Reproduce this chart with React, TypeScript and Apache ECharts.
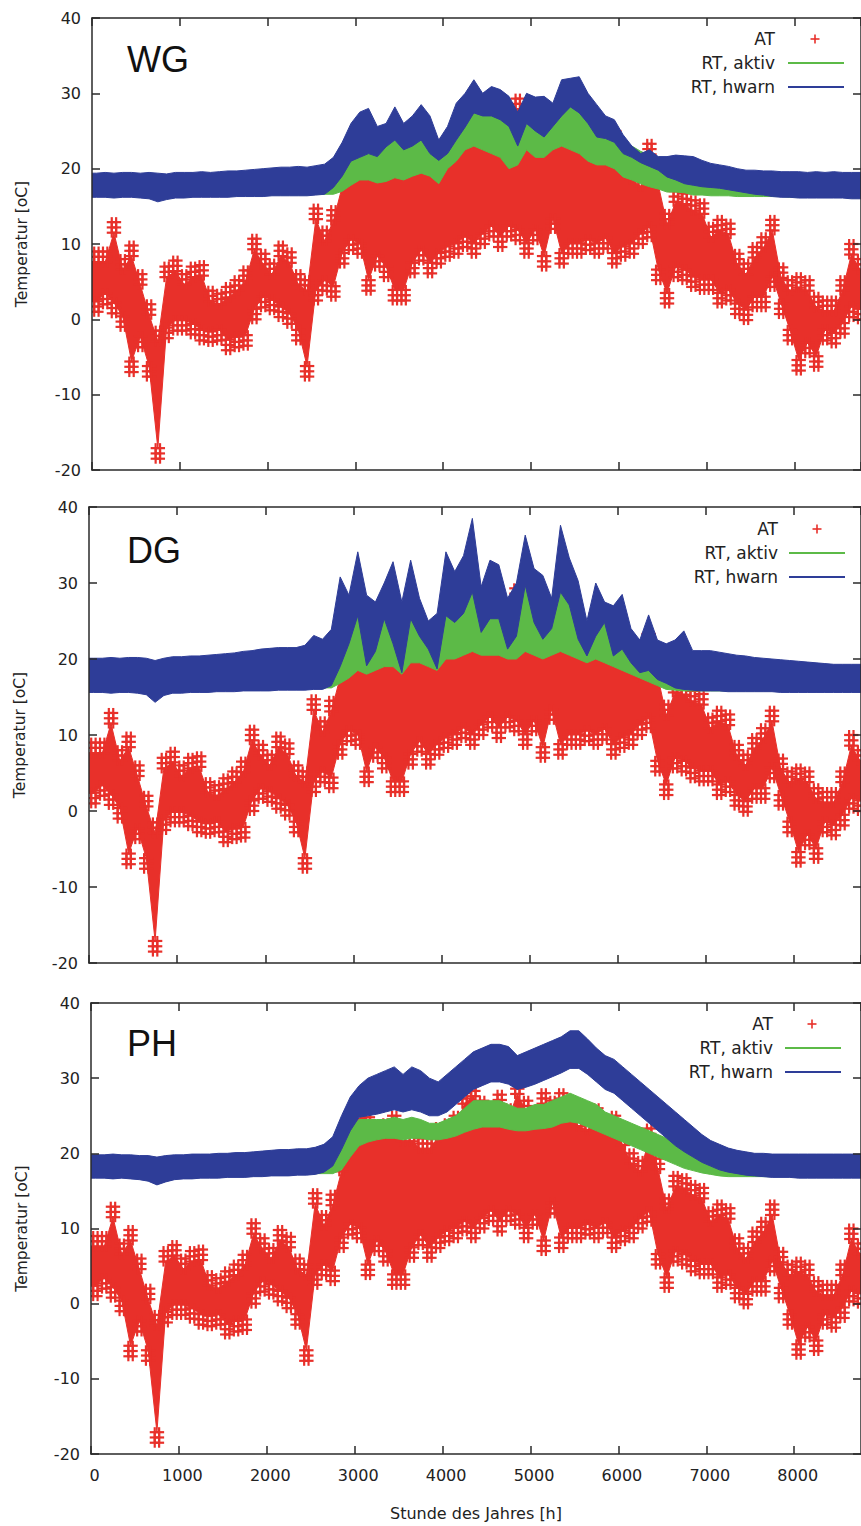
import React, { useEffect, useRef } from "react";
import * as echarts from "echarts";

// hour of the year (centre of each 100 h block)
const HOURS = [50,150,250,350,450,550,650,750,850,950,1050,1150,1250,1350,1450,1550,1650,1750,1850,1950,2050,2150,2250,2350,2450,2550,2650,2750,2850,2950,3050,3150,3250,3350,3450,3550,3650,3750,3850,3950,4050,4150,4250,4350,4450,4550,4650,4750,4850,4950,5050,5150,5250,5350,5450,5550,5650,5750,5850,5950,6050,6150,6250,6350,6450,6550,6650,6750,6850,6950,7050,7150,7250,7350,7450,7550,7650,7750,7850,7950,8050,8150,8250,8350,8450,8550,8650,8750];
const X_TICKS = [0,1000,2000,3000,4000,5000,6000,7000,8000];
const Y_TICKS = [-20,-10,0,10,20,30,40];

// Außentemperatur AT (envelope of hourly values per block)
const AT_HI = [9,9,12.9,8,9.8,6,2,-1.5,7,7.8,6,7,7.2,3.8,3.4,4.3,5.2,6.5,10.7,8.7,7.4,9.8,8.9,6,5.2,14.7,11.8,14.5,19,22,26,25.5,23.5,24,25,23,23,22,22,23.5,24,25,28,29,27,26,27.8,26,29.3,27,25.5,28,27,28,26.5,25,24.5,26,24.5,25,22.5,20,19,23.3,19.3,14,17,16.7,15.8,15.4,12.3,13.2,12.7,8.7,7.4,9.6,10.9,13.2,6.9,5.2,5.6,5.2,3,2.5,2.5,5.2,10,8];
const AT_LO = [1,2,0.8,-1,-7,-3.7,-7.6,-18.5,-2.5,-1.5,-1.5,-2,-2.8,-3,-2.8,-4.1,-3.7,-3.5,0,1.6,1.2,0.3,-0.6,-2.8,-7.6,2.5,3.8,3,7.4,9.2,8.7,3.8,7,5.6,2.5,2.5,6.1,7.8,6.1,7.4,8.3,8.7,9.6,8.7,10,11,9.6,11,10.5,8.7,10.5,7,12,7.4,8.7,8.7,9.2,8.7,9.4,7.4,8.3,8.7,10,10.9,5.2,2.1,5.6,5.2,4.3,3.9,3.9,2.1,2.5,0.7,-0.1,1.6,1.6,4.3,0.7,-2.8,-6.8,-4.5,-6.3,-2.8,-3.2,-1.9,0.3,0];

// WG
const WG_HW_HI = [19.4,19.5,19.4,19.5,19.5,19.4,19.5,19.4,19.3,19.5,19.5,19.5,19.6,19.5,19.6,19.7,19.7,19.8,19.9,20.0,20.1,20.2,20.2,20.3,20.2,20.4,20.6,21.5,23.5,26,27.5,28,25.6,26,28.2,26,27,28.5,27,23.8,25.6,28.7,30,31.8,30,30.9,30.5,29.6,27.5,30,29.5,29.6,28.7,31.8,32,32.2,30,28.5,27,26.5,24.5,23,22,22.5,21.6,21.6,21.8,21.7,21.6,21.1,20.7,20.5,20.3,20,19.8,19.8,19.7,19.7,19.6,19.6,19.6,19.5,19.6,19.5,19.6,19.5,19.5,19.5];
const WG_HW_LO = [16.2,16.2,16.1,16.2,16.2,16.1,16.0,15.6,15.9,16.1,16.1,16.2,16.2,16.2,16.2,16.2,16.3,16.3,16.3,16.3,16.4,16.4,16.4,16.4,16.4,16.5,16.6,17.5,19,21,21.5,22,21.6,22.9,23.8,22.5,23,23.8,22,21.1,22,23.8,25.5,27.4,27,27,26.5,25.6,23,26,25,24.2,25.6,27,28.2,27.4,26,24.2,24,23.5,22,21.5,20.8,20.3,19.8,18.9,18.5,18,17.8,17.6,17.5,17.4,17.2,17,16.8,16.6,16.5,16.3,16.2,16.2,16.1,16.1,16.1,16.1,16.1,16.1,16.0,16.0];
const WG_AK_HI = [19.2,19.3,19.2,19.3,19.3,19.2,19.3,19.2,19.1,19.3,19.3,19.3,19.4,19.3,19.4,19.5,19.5,19.6,19.7,19.8,19.9,20.0,20.0,20.1,20.0,20.2,20.4,20.5,21.5,23,24,24.5,23.5,24.5,25.5,24.5,25,25.5,24,23,24,25.5,27,28.5,28.5,28.5,28,27,25,27.5,26.5,26,27,28.5,29.5,29,27.5,26,25.5,25,23.5,23,22.3,21.8,21.2,20.5,20,19.6,19.4,19.3,19.2,19.2,19.2,19.2,19.2,19.2,19.2,19.2,19.2,19.2,19.2,19.1,19.2,19.1,19.2,19.1,19.1,19.1];
const WG_AK_LO = [16.3,16.3,16.2,16.3,16.3,16.2,16.1,15.8,16.0,16.2,16.2,16.3,16.3,16.3,16.3,16.3,16.4,16.4,16.4,16.4,16.5,16.5,16.5,16.5,16.5,16.6,16.6,16.6,17,17.8,18.5,18.5,18.1,18.3,18.8,18.5,19,19.4,19,18,20,21,22.5,23,22.5,22,21.5,20,20.5,22.5,21.5,21.5,22.5,23,22.5,22,21,20.5,20.5,20,18.9,18.5,18,17.6,17.3,16.9,16.9,16.8,16.5,16.5,16.4,16.4,16.4,16.3,16.3,16.3,16.3,16.3,16.3,16.2,16.2,16.2,16.2,16.2,16.2,16.2,16.1,16.1];

// DG
const DG_HW_HI = [20.1,20.1,20.2,20.1,20.2,20.2,20.1,19.8,20.1,20.3,20.3,20.4,20.4,20.5,20.6,20.7,20.8,21.0,21.1,21.3,21.4,21.5,21.5,21.5,21.8,23.1,22.6,23.9,30.8,28.4,34.1,28.4,27.5,30,32.8,27.5,33,28,25,26,34.1,31.5,33.6,38.5,29.5,33,32.4,28,30,36.3,31.9,31,28,37.6,33.3,30.3,25,30,27.5,27,28.5,24,22.5,25.8,22.5,22,22.5,23.7,21.1,21.1,21.1,20.9,20.7,20.5,20.4,20.2,20.1,20,19.9,19.8,19.7,19.6,19.5,19.4,19.3,19.3,19.3,19.3];
const DG_HW_LO = [15.6,15.6,15.5,15.6,15.6,15.5,15.3,14.3,15.2,15.5,15.5,15.6,15.6,15.6,15.7,15.7,15.7,15.8,15.8,15.8,15.8,15.9,15.9,15.9,15.9,16,16,16.5,19,22,25.7,19.1,21,25.3,22,18.2,25.3,23,21.3,18.7,25.7,24.8,26,28.8,23.5,25.3,25.3,21.3,23,29.7,24.8,22.6,24,28.8,27.1,22.6,20.4,23,24.8,20.4,21.3,19.5,18.2,18.5,17.3,16.8,16.2,16,15.9,15.8,15.8,15.8,15.7,15.7,15.7,15.7,15.7,15.7,15.6,15.6,15.6,15.6,15.6,15.6,15.6,15.6,15.6,15.6];
const DG_AK_HI = [19.8,19.8,19.9,19.8,19.9,19.9,19.8,19.5,19.8,20,20,20.1,20.1,20.2,20.3,20.4,20.5,20.7,20.8,21,21.1,21.2,21.2,21.2,21.5,22,21.5,21,21.5,23.5,26.5,21,22.5,26,23.5,20,26,24.5,22.5,20,26.5,25.5,27,29.5,24.5,26,26,22.5,24,30.5,25.5,23.5,25,29.5,28,23.5,21.5,24,25.5,21.5,22,20.5,19.5,19.5,18.5,18,17.5,17.3,17.2,17.2,17.2,17.2,17.2,17.2,17.2,17.2,17.2,17.2,17.2,17.2,17.2,17.2,17.2,17.2,17.2,17.2,17.2,17.2];
const DG_AK_LO = [15.8,15.8,15.7,15.8,15.8,15.7,15.5,14.6,15.4,15.7,15.7,15.8,15.8,15.8,15.9,15.9,15.9,16,16,16,16,16.1,16.1,16.1,16.1,16.2,16.2,16.2,16.8,17.5,18.5,18,18.5,19,19,18,19.5,19.5,19,18.5,20,20,20.5,21,20.5,20.5,20.5,20,20,21,20.5,20,20.5,21,20.5,20,19.5,20,19.5,19,18.5,18,17.5,17,16.5,16,15.9,15.8,15.8,15.8,15.8,15.8,15.8,15.8,15.8,15.8,15.8,15.8,15.8,15.8,15.8,15.8,15.8,15.8,15.8,15.8,15.8,15.8];

// PH
const PH_HW_HI = [19.8,19.8,19.9,19.8,19.8,19.7,19.7,19.5,19.7,19.8,19.8,19.9,19.9,19.9,20,20,20.1,20.1,20.2,20.3,20.4,20.5,20.5,20.6,20.6,20.8,21.2,22.2,25,27.5,29,30,30.5,31,31.5,30.5,31.5,31,30,29.5,30.5,31.5,32.5,33.5,34,34.5,34.5,34.2,33,33.5,34,34.5,35,35.5,36.3,36.3,35.2,34,33,32.5,31.5,30.5,29.5,28.5,27.5,26.5,25.5,24.5,23.5,22.5,21.7,21.2,20.7,20.4,20.2,20,20,19.9,19.9,19.9,19.9,19.9,19.9,19.9,19.9,19.9,19.9,19.9];
const PH_HW_LO = [16.7,16.7,16.6,16.7,16.6,16.5,16.3,15.8,16.2,16.5,16.6,16.6,16.7,16.7,16.7,16.8,16.8,16.8,16.9,16.9,17,17,17,17.1,17.1,17.2,17.5,18.3,20.5,23,24.8,25,25.2,25.5,25.8,25.5,25.8,25.5,25,25,25.5,26.5,27.5,28.5,29,29.5,29.5,29.2,28.5,28.8,29.2,29.7,30.2,30.7,31.3,31.3,30.5,29.5,28.5,28,27,26,25,24,23,22,21,20.2,19.5,18.8,18.3,17.8,17.5,17.3,17.1,17,16.9,16.8,16.8,16.8,16.7,16.7,16.7,16.7,16.7,16.7,16.7,16.7];
const PH_AK_HI = [19.5,19.5,19.6,19.5,19.5,19.4,19.4,19.2,19.4,19.5,19.5,19.6,19.6,19.6,19.7,19.7,19.8,19.8,19.9,20,20.1,20.2,20.2,20.3,20.3,20.5,20.5,20.5,22,23.5,24.5,24.5,24.5,24.5,24.8,24.5,24.8,24.5,24,24,24.5,25,26,27,27,27,27,26.5,26,26,26.5,26.5,27,27.5,28,27.5,27,26.5,25.5,25,24.5,24,23.5,23,22.5,22,21.5,21,20.5,20,19.6,19.4,19.3,19.3,19.3,19.3,19.3,19.3,19.3,19.3,19.3,19.3,19.3,19.3,19.3,19.3,19.3,19.3];
const PH_AK_LO = [16.8,16.8,16.7,16.8,16.7,16.6,16.4,15.9,16.3,16.6,16.7,16.7,16.8,16.8,16.8,16.9,16.9,16.9,17,17,17.1,17.1,17.1,17.2,17.2,17.3,17.3,17.3,17.8,19.5,21,21.5,21.8,22,22,21.8,22,22,21.8,21.8,22,22.3,22.8,23.2,23.5,23.5,23.5,23.2,23,23,23.2,23.3,23.5,24,24.2,24,23.5,23,22.5,22,21.5,21,20.5,20,19.5,19,18.5,18,17.7,17.4,17.2,17,16.9,16.9,16.9,16.9,16.9,16.9,16.9,16.9,16.9,16.9,16.9,16.9,16.9,16.9,16.9,16.9];

const PANEL_NAMES = ["WG", "DG", "PH"];
const LEGEND_LABELS = ["AT", "RT, aktiv", "RT, hwarn"];
const X_MAX = 8760;

const RED = "#e8302a";
const GREEN = "#5cba47";
const BLUE = "#2e3d98";
const AXIS = "#2a2a2a";
const FONT = "DejaVu Sans";

const PANELS = [
  { akHi: WG_AK_HI, akLo: WG_AK_LO, hwHi: WG_HW_HI, hwLo: WG_HW_LO, left: 92, top: 18, width: 773, height: 452, legRight: 775, legTop: 39, lineX: 788, crossX: 815, nameY: 61, yLabelX: 22 },
  { akHi: DG_AK_HI, akLo: DG_AK_LO, hwHi: DG_HW_HI, hwLo: DG_HW_LO, left: 89, top: 507, width: 780, height: 456, legRight: 778, legTop: 529, lineX: 789, crossX: 817, nameY: 552, yLabelX: 20 },
  { akHi: PH_AK_HI, akLo: PH_AK_LO, hwHi: PH_HW_HI, hwLo: PH_HW_LO, left: 91, top: 1003, width: 772, height: 451, legRight: 773, legTop: 1024, lineX: 785, crossX: 812, nameY: 1045, yLabelX: 22 },
];

const EDGE_STEPS = [0, 0.7, 1.4];
const COL_OFFSETS = [-25, 25];

function bandSeries(gi: number, lo: number[], hi: number[], color: string, inset: number) {
  const data = HOURS.map((h, i) => [h, lo[i], hi[i]]);
  return {
    type: "custom",
    xAxisIndex: gi * 2,
    yAxisIndex: gi * 2,
    data,
    silent: true,
    clip: true,
    renderItem: (params: any, api: any) => {
      if (params.dataIndex !== 0) return null;
      const n = HOURS.length;
      const t = (i: number) => Math.max(hi[i] - inset, (hi[i] + lo[i]) / 2);
      const b = (i: number) => Math.min(lo[i] + inset, (hi[i] + lo[i]) / 2);
      const top: number[][] = [api.coord([0, t(0)])];
      const bot: number[][] = [api.coord([0, b(0)])];
      for (let i = 0; i < n; i++) {
        top.push(api.coord([HOURS[i], t(i)]));
        bot.push(api.coord([HOURS[i], b(i)]));
      }
      top.push(api.coord([X_MAX, t(n - 1)]));
      bot.push(api.coord([X_MAX, b(n - 1)]));
      return {
        type: "polygon",
        shape: { points: top.concat(bot.reverse()) },
        style: { fill: color, stroke: color, lineWidth: 1 },
      };
    },
  };
}

// AT drawn as "+" points stacked along the edges of each block
function crossSeries(gi: number) {
  const data = HOURS.map((h, i) => [h, AT_LO[i], AT_HI[i]]);
  const s = 5;
  const cross = (p: number[]) => [
    { type: "line", shape: { x1: p[0] - s, y1: p[1], x2: p[0] + s, y2: p[1] }, style: { stroke: RED, lineWidth: 2.2 } },
    { type: "line", shape: { x1: p[0], y1: p[1] - s, x2: p[0], y2: p[1] + s }, style: { stroke: RED, lineWidth: 2.2 } },
  ];
  return {
    type: "custom",
    xAxisIndex: gi * 2,
    yAxisIndex: gi * 2,
    data,
    silent: true,
    clip: true,
    renderItem: (params: any, api: any) => {
      const x = api.value(0);
      const lo = api.value(1);
      const hi = api.value(2);
      const kids: any[] = [];
      COL_OFFSETS.forEach((dx) => {
        EDGE_STEPS.forEach((d) => {
          if (hi - d >= lo) kids.push(...cross(api.coord([x + dx, hi - d])));
          if (lo + d <= hi) kids.push(...cross(api.coord([x + dx, lo + d])));
        });
      });
      return { type: "group", children: kids };
    },
  };
}

function buildOption() {
  const grid: any[] = [];
  const xAxis: any[] = [];
  const yAxis: any[] = [];
  const series: any[] = [];
  const graphic: any[] = [];
  const lineStyle = { color: AXIS, width: 1.5 };

  PANELS.forEach((p, gi) => {
    grid.push({ left: p.left, top: p.top, width: p.width, height: p.height, containLabel: false });
    const isLast = gi === PANELS.length - 1;
    const common = {
      gridIndex: gi,
      type: "value",
      min: 0,
      max: X_MAX,
      interval: 1000,
      splitLine: { show: false },
      axisLine: { show: true, onZero: false, lineStyle },
      axisTick: { show: true, inside: true, length: 8, lineStyle },
      z: 10,
    };
    xAxis.push({
      ...common,
      position: "bottom",
      axisLabel: {
        show: isLast,
        margin: 13,
        color: "#222",
        fontFamily: FONT,
        fontSize: 16,
        padding: [0, 0, 0, 7],
        showMaxLabel: false,
        formatter: (v: number) => (X_TICKS.indexOf(v) >= 0 ? String(v) : ""),
      },
    });
    xAxis.push({ ...common, position: "top", axisLabel: { show: false } });
    const ycommon = {
      gridIndex: gi,
      type: "value",
      min: Y_TICKS[0],
      max: Y_TICKS[Y_TICKS.length - 1],
      interval: 10,
      splitLine: { show: false },
      axisLine: { show: true, onZero: false, lineStyle },
      axisTick: { show: true, inside: true, length: 8, lineStyle },
      z: 10,
    };
    yAxis.push({
      ...ycommon,
      position: "left",
      axisLabel: { show: true, margin: 11, color: "#222", fontFamily: FONT, fontSize: 16 },
    });
    yAxis.push({ ...ycommon, position: "right", axisLabel: { show: false } });

    // drawing order: AT first, then RT aktiv, then RT hwarn on top
    series.push(bandSeries(gi, AT_LO, AT_HI, RED, 1.4));
    series.push(crossSeries(gi));
    series.push(bandSeries(gi, p.akLo, p.akHi, GREEN, 0));
    series.push(bandSeries(gi, p.hwLo, p.hwHi, BLUE, 0));

    graphic.push({
      type: "text",
      left: 127,
      top: p.nameY - 20,
      z: 100,
      style: { text: PANEL_NAMES[gi], font: "36px 'Liberation Sans', Arial, sans-serif", fill: "#111" },
    });
    graphic.push({
      type: "text",
      x: p.yLabelX,
      y: p.top + p.height / 2,
      rotation: Math.PI / 2,
      z: 100,
      style: {
        text: "Temperatur [oC]",
        font: `15.5px '${FONT}'`,
        fill: "#222",
        align: "center",
        verticalAlign: "middle",
      },
    });
    LEGEND_LABELS.forEach((lab, k) => {
      const y = p.legTop + k * 24;
      graphic.push({
        type: "text",
        x: p.legRight,
        y,
        z: 100,
        style: { text: lab, font: `17px '${FONT}'`, fill: "#222", align: "right", verticalAlign: "middle" },
      });
      if (k === 0) {
        graphic.push({ type: "line", z: 100, shape: { x1: p.crossX - 4.5, y1: y, x2: p.crossX + 4.5, y2: y }, style: { stroke: RED, lineWidth: 1.6 } });
        graphic.push({ type: "line", z: 100, shape: { x1: p.crossX, y1: y - 4.5, x2: p.crossX, y2: y + 4.5 }, style: { stroke: RED, lineWidth: 1.6 } });
      } else {
        graphic.push({
          type: "line",
          z: 100,
          shape: { x1: p.lineX, y1: y, x2: p.lineX + 56, y2: y },
          style: { stroke: k === 1 ? GREEN : BLUE, lineWidth: 2 },
        });
      }
    });
  });

  graphic.push({
    type: "text",
    x: 476,
    y: 1513,
    z: 100,
    style: { text: "Stunde des Jahres [h]", font: `16px '${FONT}'`, fill: "#222", align: "center", verticalAlign: "middle" },
  });

  return {
    animation: false,
    backgroundColor: "#ffffff",
    grid,
    xAxis,
    yAxis,
    series,
    graphic,
  };
}

export default function App() {
  const ref = useRef<HTMLDivElement>(null);
  useEffect(() => {
    if (!ref.current) return;
    const chart = echarts.init(ref.current, undefined, { renderer: "svg" });
    chart.setOption(buildOption() as any);
    return () => chart.dispose();
  }, []);
  return (
    <div
      ref={ref}
      style={{ position: "absolute", left: 0, top: 0, width: 861, height: 1526, overflow: "hidden", background: "#fff" }}
    />
  );
}
